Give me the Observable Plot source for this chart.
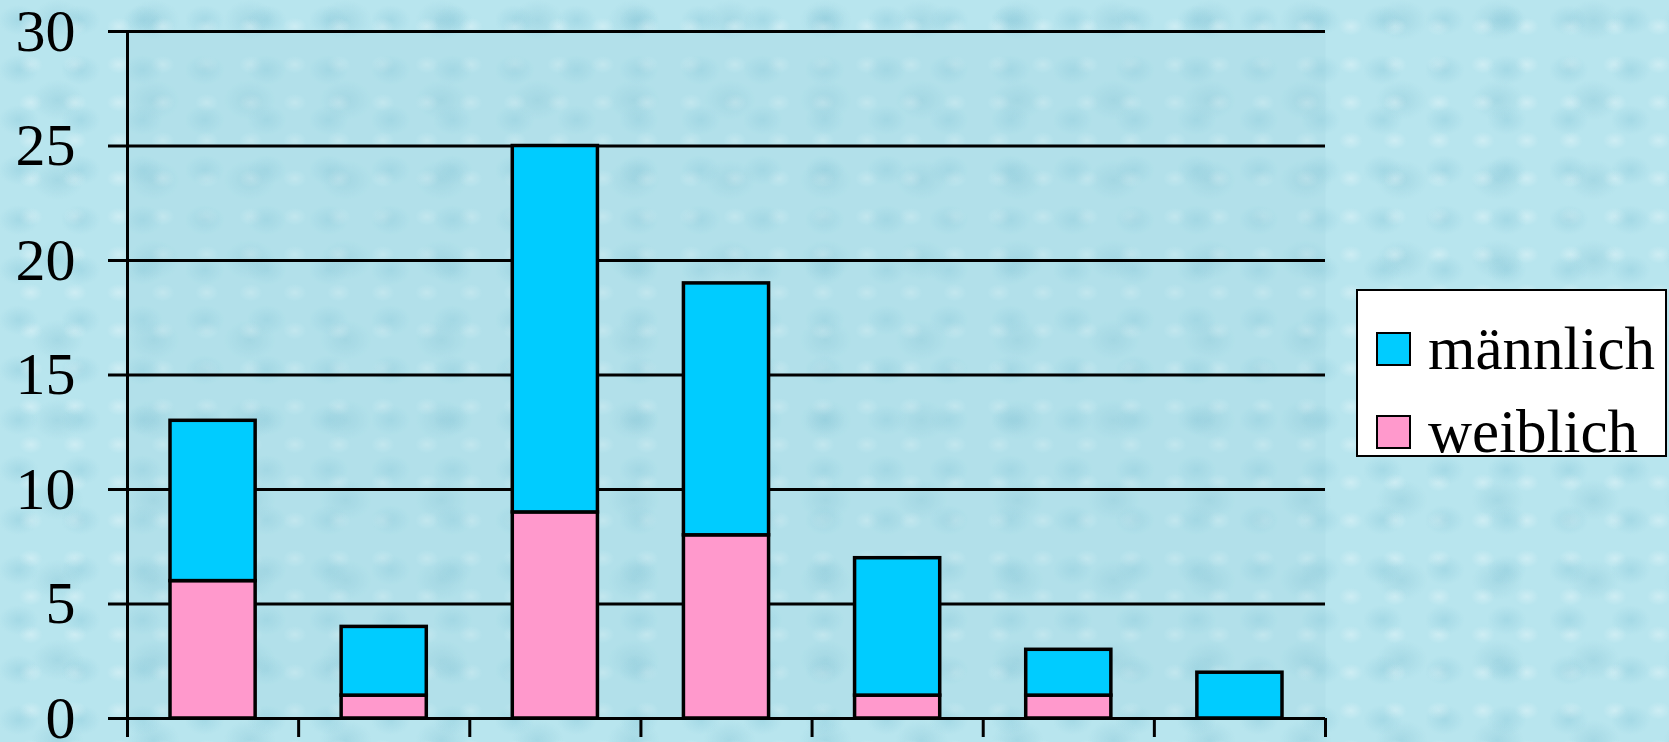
<!DOCTYPE html>
<html>
<head>
<meta charset="utf-8">
<script src="https://cdn.jsdelivr.net/npm/d3@7"></script>
<script src="https://cdn.jsdelivr.net/npm/@observablehq/plot@0.6"></script>
<style>
  html, body { margin: 0; padding: 0; }
  body {
    width: 1669px; height: 742px; overflow: hidden;
    background-color: #b8e5ee;
    background-image:
      radial-gradient(ellipse 20px 15px at 30% 40%, rgba(120,190,210,0.30), rgba(120,190,210,0) 100%),
      radial-gradient(ellipse 12px 9px at 70% 70%, rgba(255,255,255,0.30), rgba(255,255,255,0) 100%),
      radial-gradient(ellipse 26px 20px at 60% 25%, rgba(110,180,200,0.25), rgba(110,180,200,0) 100%);
    background-size: 62px 50px, 44px 38px, 96px 80px;
    font-family: "Liberation Serif", "Times New Roman", serif;
  }
  #wrap { position: relative; width: 1669px; height: 742px; }
  #legend {
    position: absolute; left: 1356px; top: 289px; width: 307px; height: 164px;
    background: #ffffff; border: 2.5px solid #000; box-sizing: content-box;
  }
  .item { position: absolute; left: 18px; height: 60px; display: flex; align-items: center; }
  .sw { border: 2.5px solid #000; box-sizing: border-box; width: 35px; height: 34px; }
  .lab { font-size: 61px; line-height: 60px; margin-left: 17px; color: #000; }
</style>
</head>
<body>
<div id="wrap"></div>
<script>
// Data
const categories = ["1", "2", "3", "4", "5", "6", "7"];
const weiblich = [6, 1, 9, 8, 1, 1, 0];
const maennlich = [7, 3, 16, 11, 6, 2, 2];
const seriesNames = ["männlich", "weiblich"];
const seriesColors = ["#00CCFF", "#FF99CC"];
const yTicks = [0, 5, 10, 15, 20, 25, 30];

const rows = categories.flatMap((c, i) => [
  {i, cat: c, sex: "weiblich", value: weiblich[i]},
  {i, cat: c, sex: "männlich", value: maennlich[i]}
]);
const xBounds = d3.range(0, categories.length + 1);

const chart = Plot.plot({
  width: 1669,
  height: 742,
  marginLeft: 127,
  marginRight: 344,
  marginTop: 31,
  marginBottom: 24,
  style: {background: "transparent", fontFamily: "'Liberation Serif', 'Times New Roman', serif", overflow: "visible"},
  x: {domain: [0, categories.length], axis: null},
  y: {domain: [0, 30], axis: null},
  color: {domain: seriesNames, range: seriesColors},
  marks: [
    Plot.frame({fill: "#9fd3e0", fillOpacity: 0.25, stroke: null}),
    Plot.ruleY(yTicks, {stroke: "#000", strokeWidth: 3}),
    Plot.axisY({ticks: yTicks, tickSize: 19, tickPadding: 33, fontSize: 60, stroke: "#000", strokeWidth: 3, fill: "#000", label: null}),
    Plot.axisX({ticks: xBounds, tickSize: 19, tickFormat: () => "", stroke: "#000", strokeWidth: 3, label: null}),
    Plot.ruleX([0], {stroke: "#000", strokeWidth: 3}),
    Plot.rect(rows, Plot.stackY({
      x: "i",
      x1: "i",
      x2: d => d.i + 1,
      y: "value",
      fill: "sex",
      stroke: "#000",
      strokeWidth: 3.5,
      insetLeft: 43,
      insetRight: 43
    }))
  ]
});
document.getElementById("wrap").appendChild(chart);

// Legend
const legend = document.createElement("div");
legend.id = "legend";
const legendTops = [28, 111];
seriesNames.forEach((name, k) => {
  const it = document.createElement("div");
  it.className = "item";
  it.style.top = legendTops[k] + "px";
  const sw = document.createElement("div");
  sw.className = "sw";
  sw.style.background = seriesColors[k];
  const lab = document.createElement("span");
  lab.className = "lab";
  lab.textContent = name;
  it.appendChild(sw);
  it.appendChild(lab);
  legend.appendChild(it);
});
document.getElementById("wrap").appendChild(legend);
</script>
</body>
</html>
